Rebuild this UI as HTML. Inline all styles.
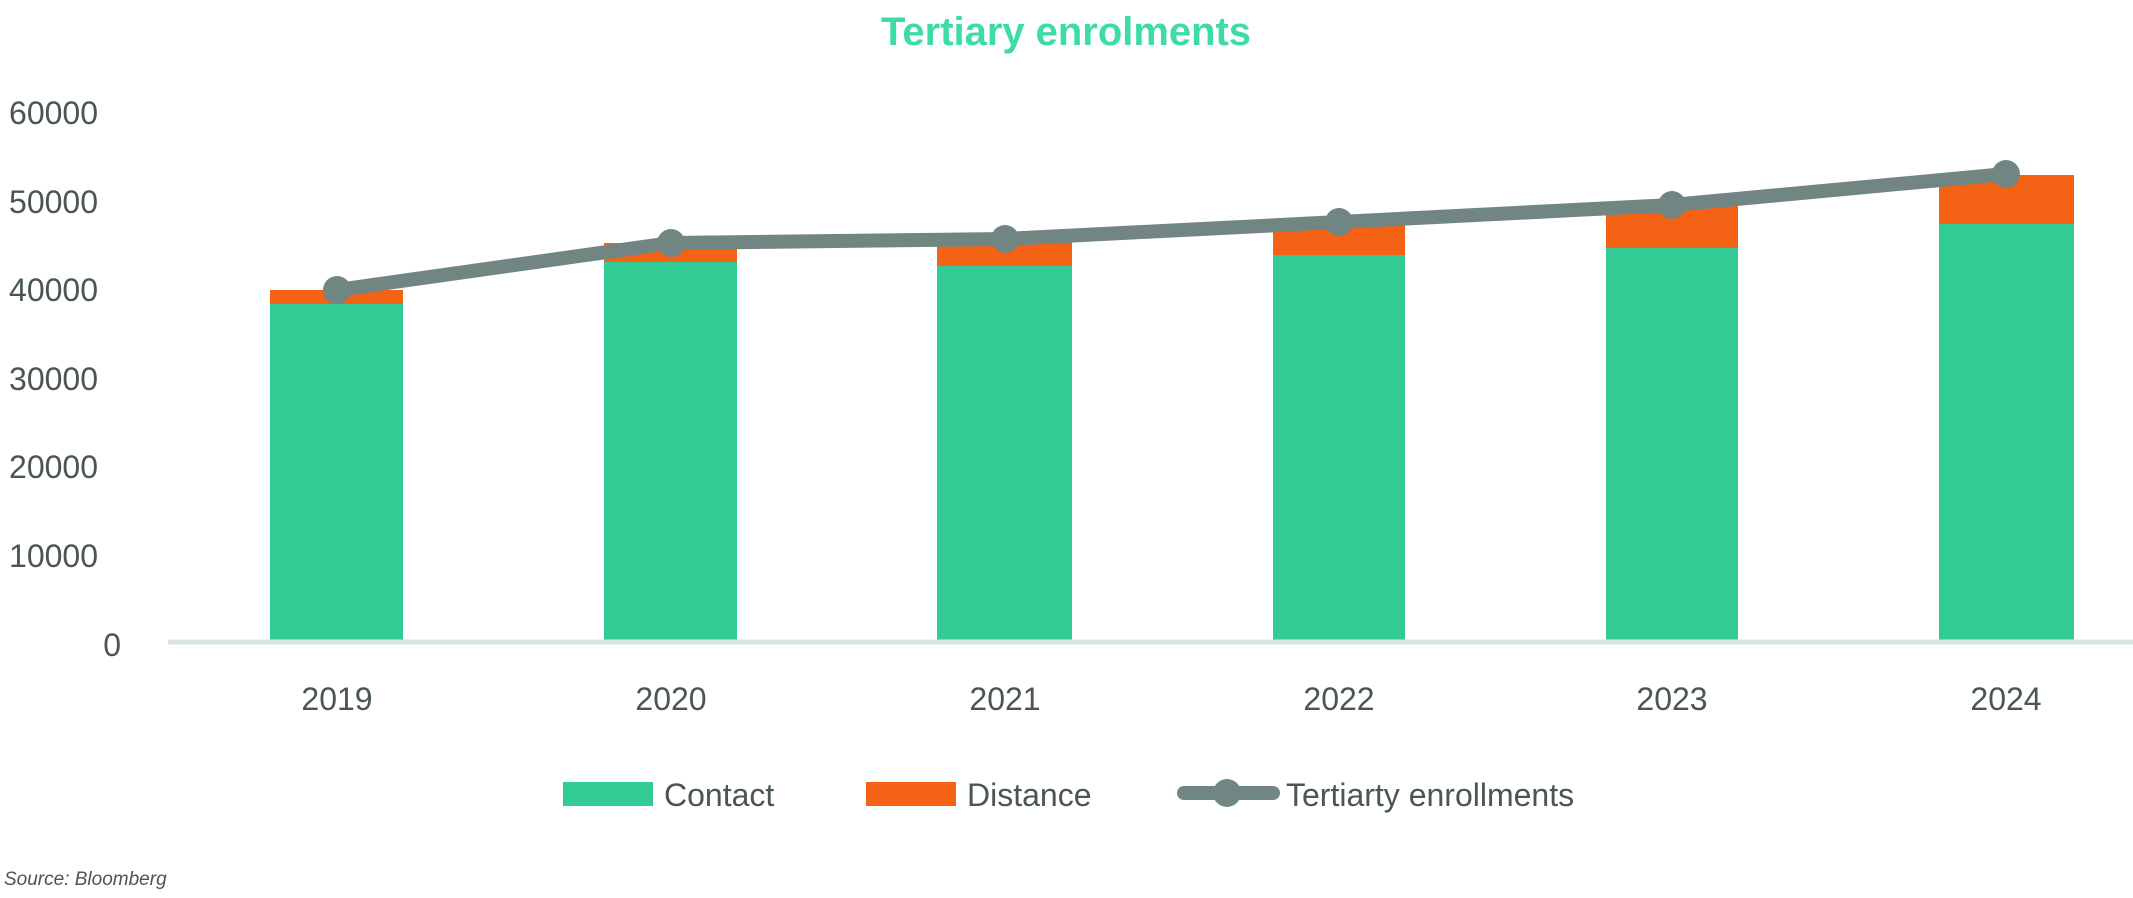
<!DOCTYPE html>
<html><head><meta charset="utf-8"><style>
html,body{margin:0;padding:0;background:#fff;}
body{width:2133px;height:893px;overflow:hidden;}
</style></head><body>
<svg width="2133" height="893" xmlns="http://www.w3.org/2000/svg" font-family="Liberation Sans, sans-serif">
<text x="1066" y="45" text-anchor="middle" font-size="40" font-weight="bold" fill="#3ddba8" textLength="370" lengthAdjust="spacingAndGlyphs">Tertiary enrolments</text>
<g font-size="32" fill="#4a5555">
<text x="98" y="124" text-anchor="end">60000</text>
<text x="98" y="213" text-anchor="end">50000</text>
<text x="98" y="301" text-anchor="end">40000</text>
<text x="98" y="390" text-anchor="end">30000</text>
<text x="98" y="478" text-anchor="end">20000</text>
<text x="98" y="567" text-anchor="end">10000</text>
<text x="121" y="656" text-anchor="end">0</text>
</g>
<g fill="#32cb93">
<rect x="270" y="304" width="133" height="338"/>
<rect x="604" y="262" width="133" height="380"/>
<rect x="937" y="266" width="135" height="376"/>
<rect x="1273" y="255" width="132" height="387"/>
<rect x="1606" y="248" width="132" height="394"/>
<rect x="1939" y="224" width="135" height="418"/>
</g>
<g fill="#f46216">
<rect x="270" y="290" width="133" height="14"/>
<rect x="604" y="243" width="133" height="19"/>
<rect x="937" y="240" width="135" height="26"/>
<rect x="1273" y="224" width="132" height="31"/>
<rect x="1606" y="205" width="132" height="43"/>
<rect x="1939" y="175" width="135" height="49"/>
</g>
<line x1="168" y1="642" x2="2133" y2="642" stroke="#dce3e3" stroke-width="5"/>
<polyline points="337,290 671,243 1005,239 1339,222 1672,205 2006,174" fill="none" stroke="#718582" stroke-width="14" stroke-linejoin="round"/>
<g fill="#718582">
<circle cx="337" cy="290" r="14"/><circle cx="671" cy="243" r="14"/><circle cx="1005" cy="239" r="14"/>
<circle cx="1339" cy="222" r="14"/><circle cx="1672" cy="205" r="14"/><circle cx="2006" cy="174" r="14"/>
</g>
<g font-size="32" fill="#4a5555" text-anchor="middle">
<text x="337" y="710">2019</text><text x="671" y="710">2020</text><text x="1005" y="710">2021</text>
<text x="1339" y="710">2022</text><text x="1672" y="710">2023</text><text x="2006" y="710">2024</text>
</g>
<rect x="563" y="782" width="90" height="24" fill="#32cb93"/>
<text x="664" y="806" font-size="32" fill="#4a5555">Contact</text>
<rect x="866" y="782" width="90" height="24" fill="#f46216"/>
<text x="967" y="806" font-size="32" fill="#4a5555">Distance</text>
<line x1="1184" y1="793" x2="1273" y2="793" stroke="#718582" stroke-width="14" stroke-linecap="round"/>
<circle cx="1227" cy="793" r="14" fill="#718582"/>
<text x="1286" y="806" font-size="32" fill="#4a5555">Tertiarty enrollments</text>
<text x="4" y="885" font-size="19" font-style="italic" fill="#4a5555">Source: Bloomberg</text>
</svg>
</body></html>
